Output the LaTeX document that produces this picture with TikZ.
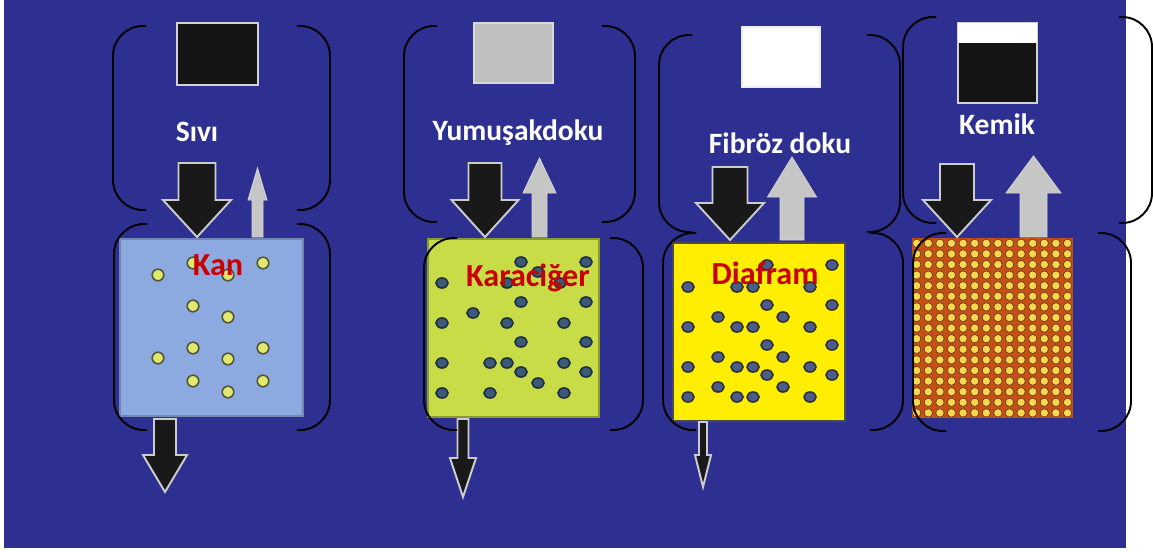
\documentclass[tikz,border=0pt]{standalone}
\usepackage{fontspec}
\setmainfont{Carlito}
\usetikzlibrary{calc}
\definecolor{bgblue}{RGB}{46,48,145}
\definecolor{kanblue}{RGB}{141,170,224}
\definecolor{livergreen}{RGB}{200,220,72}
\definecolor{diayellow}{RGB}{255,238,0}
\definecolor{bonered}{RGB}{196,80,24}
\definecolor{labelred}{RGB}{200,0,0}
\tikzset{bracket/.style={black, line width=1.1pt, rounded corners=6mm}}
\tikzset{darkarrow/.style={fill=black!90, draw=gray!40, line width=1.1pt}}
\tikzset{greyarrow/.style={fill=gray!45, draw=gray!35, line width=0.5pt}}
\tikzset{toplabel/.style={text=white, font=\bfseries\fontsize{16.8}{19}\selectfont}}
\tikzset{tissuelabel/.style={text=labelred, font=\bfseries\fontsize{18.3}{20}\selectfont}}
\tikzset{kandot/.style={fill={rgb,255:red,226;green,232;blue,110}, draw={rgb,255:red,80;green,86;blue,60}, line width=0.9pt}}
\tikzset{liverdot/.style={fill={rgb,255:red,58;green,90;blue,120}, draw={rgb,255:red,30;green,46;blue,64}, line width=0.9pt}}
\tikzset{diadot/.style={fill={rgb,255:red,76;green,92;blue,140}, draw={rgb,255:red,48;green,48;blue,48}, line width=0.9pt}}
\tikzset{bonedot/.style={fill={rgb,255:red,248;green,216;blue,80}, draw={rgb,255:red,110;green,60;blue,16}, line width=0.4pt}}
% block arrow: style, centre x, base y, head y, tip y, half shaft, half head
\newcommand{\blockarrow}[7]{%
  \draw[#1] (#2-#6,#3) -- (#2+#6,#3) -- (#2+#6,#4) -- (#2+#7,#4) -- (#2,#5)
    -- (#2-#7,#4) -- (#2-#6,#4) -- cycle;}
% a pair of round brackets: left x, right x, top y, bottom y
\newcommand{\bracketpair}[4]{%
  \draw[bracket] (#1+33,#3) -- (#1,#3) -- (#1,#4) -- (#1+33,#4);
  \draw[bracket] (#2-33,#3) -- (#2,#3) -- (#2,#4) -- (#2-33,#4);}

\begin{document}
\begin{tikzpicture}[x=0.2mm,y=-0.2mm]
  \useasboundingbox (0,0) rectangle (1153,552);
  \fill[white] (0,0) rectangle (1153,552);
  \fill[bgblue] (4,0) rectangle (1126,548);

  % probe squares
  \draw[fill=black!92, draw=gray!35, line width=1.1pt] (177,23) rectangle (258,85);
  \draw[fill=gray!50, draw=gray!30, line width=1.1pt] (474,23) rectangle (553,83);
  \draw[fill=white, draw=gray!15, line width=1.1pt] (742,27) rectangle (820,87);
  \draw[fill=black!92, draw=gray!35, line width=1.1pt] (958,23) rectangle (1037,103);
  \fill[white] (958,23) rectangle (1037,43);

  \node[toplabel] (sivi) at (197,132) {Sıvı};
  \node[toplabel] (yumusak) at (518,133) {Yumuşakdoku};
  \node[toplabel] (fibroz) at (780,143) {Fibröz doku};
  \node[toplabel] (kemik) at (997,124) {Kemik};

  % tissue blocks
  \draw[fill=kanblue, draw=kanblue!80!black, line width=0.6pt] (120,239) rectangle (303,416);
  \foreach \x/\y in {158/275,193/263,228/275,263/263,193/306,228/317,193/348,263/348,
                     158/358,228/359,193/381,263/381,228/392}
    \draw[kandot] (\x,\y) circle (5.8);

  \draw[fill=livergreen, draw=livergreen!70!black, line width=0.6pt] (428,239) rectangle (599,417);
  \foreach \x/\y in {521/262,586/262,442/283,538/272,507/283,560/283,521/302,586/302,
                     473/313,442/323,507/323,564/323,521/342,586/342,442/363,490/363,
                     507/363,564/363,521/372,586/372,538/383,442/393,490/393,564/393}
    \draw[liverdot] (\x,\y) ellipse [x radius=6, y radius=5];

  \draw[fill=diayellow, draw=black!70, line width=0.6pt] (673,243) rectangle (845,421);
  \foreach \y/\xs in {265/{767,832},287/{688,737,753,810},305/{767,832},317/{718,783},
                      327/{688,737,753,810},345/{767,832},357/{718,783},
                      367/{688,737,753,810},375/{767,832},387/{718,783},
                      397/{688,737,753,810}}
    \foreach \x in \xs
      \draw[diadot] (\x,\y) ellipse [x radius=6, y radius=5];

  \fill[bonered] (912,238) rectangle (1073,418);
  \foreach \i in {0,...,13}
    \foreach \j in {0,...,16}
      \draw[bonedot] (916.7+\i*11.6,243.3+\j*10.6) circle (4.2);

  \node[tissuelabel] (kan) at (218,265) {Kan};
  \node[tissuelabel] (karaciger) at (528,278) {Karaciğer};
  \node[tissuelabel] (diafram) at (765,273) {Diafram};

  % incoming, reflected and transmitted beams
  \blockarrow{darkarrow}{197}{163}{200}{237}{18.5}{34}
  \blockarrow{greyarrow}{257.5}{237}{200}{168}{5.5}{9.5}
  \blockarrow{darkarrow}{165}{419}{455}{492}{11}{22}

  \blockarrow{darkarrow}{485}{163}{200}{237}{16.5}{33.5}
  \blockarrow{greyarrow}{539.5}{237}{193}{158}{7.5}{16.5}
  \blockarrow{darkarrow}{463}{419}{458}{497}{5.5}{13}

  \blockarrow{darkarrow}{730}{167}{203}{240}{17.5}{34}
  \blockarrow{greyarrow}{792}{240}{197}{157}{12}{24.5}
  \blockarrow{darkarrow}{703}{422}{455}{487}{4}{8}

  \blockarrow{darkarrow}{957}{164}{200}{237}{17}{34}
  \blockarrow{greyarrow}{1033.5}{237}{193}{156}{13.5}{27.5}

  % brackets
  \bracketpair{113}{330}{26}{210}
  \bracketpair{404}{635}{26}{222}
  \bracketpair{659}{900}{35}{232}
  \bracketpair{903}{1152}{17}{223}
  \bracketpair{114}{330}{224}{430}
  \bracketpair{424}{643}{238}{430}
  \bracketpair{663}{903}{233}{430}
  \bracketpair{913}{1131}{233}{431}
\end{tikzpicture}
\end{document}
